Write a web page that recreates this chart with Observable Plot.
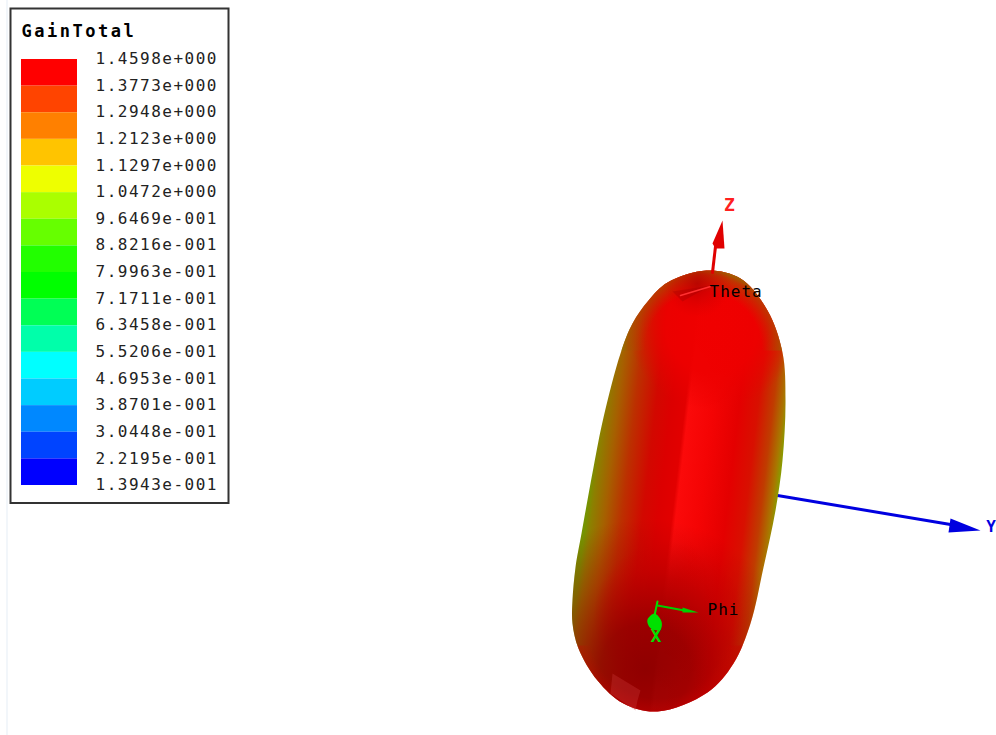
<!DOCTYPE html>
<html><head><meta charset="utf-8">
<script src="https://cdn.jsdelivr.net/npm/d3@7"></script>
<script src="https://cdn.jsdelivr.net/npm/@observablehq/plot@0.6"></script>
<style>
html,body{margin:0;padding:0;background:#fff;overflow:hidden;width:996px;height:735px}
#stage{position:relative;width:996px;height:735px}
#stage svg{position:absolute;max-width:none;background:transparent}
#stage svg.scene{left:0;top:0;background:#fff}
#stage svg.legend{left:9.5px;top:7.5px;overflow:visible}
.gain text{letter-spacing:1.5px}
.ttl text{letter-spacing:2.5px}
.ann text{letter-spacing:1px}
</style></head><body><div id="stage"></div>
<script>
// Legend: gain levels and colour bands
const legendTitle = "GainTotal";
const gainValues = [1.4598,1.3773,1.2948,1.2123,1.1297,1.0472,0.96469,0.88216,0.79963,0.71711,0.63458,0.55206,0.46953,0.38701,0.30448,0.22195,0.13943];
const gainLabels = ["1.4598e+000","1.3773e+000","1.2948e+000","1.2123e+000","1.1297e+000","1.0472e+000","9.6469e-001","8.8216e-001","7.9963e-001","7.1711e-001","6.3458e-001","5.5206e-001","4.6953e-001","3.8701e-001","3.0448e-001","2.2195e-001","1.3943e-001"];
const bandColors = ["#ff0000","#ff4400","#ff8000","#ffc400","#eeff00","#aaff00","#66ff00","#22ff00","#00ff00","#00ff55","#00ffaa","#00ffff","#00ccff","#0088ff","#0044ff","#0000ff"];

// Radiation-pattern silhouette
const lobeX = [706,740,767,782,785,782,775,763,750,733,707,657,623,597,578,572,572,575,581,593,603,620,632,648,667];
const lobeY = [270,278,310,352,400,460,510,567,623,663,692,711,703,680,648,623,600,567,533,467,417,353,323,300,282];
const facetX = [612,640,637,635,610];
const facetY = [673,690,700,710,693];
const dimpleX = [672,710,682], dimpleY = [291,285,301];
const markerX = [654,647,648,652,660,661], markerY = [613,619,625,629,629,621];

// Coordinate axes of the 3-D view
const zShaftX = [712,715], zShaftY = [272,246];
const zHeadX = [722,712,715,724], zHeadY = [220,243,248,248];
const yShaftX = [777,950], yShaftY = [495,524];
const yHeadX = [950,980,948], yHeadY = [518,530,532];
const xShaftX = [657,654], xShaftY = [601,615];
const phiShaftX = [657,684], phiShaftY = [605,610];
const phiHeadX = [682,698,682], phiHeadY = [607,612,612];
const thetaShaftX = [710,680], thetaShaftY = [286,295];
const axisLetters = ["Z","Y","X"];
const letterX = [729,990.5,655.5];
const letterY = [205,526,636];
const letterSize = [18,16,18];
const letterColor = ["#ff2020","#0000e0","#00e000"];
const angleNames = ["Theta","Phi"];
const angleX = [709,707];
const angleY = [291,609];

const rows = (xs, ys) => xs.map((x, i) => ({x, y: ys[i]}));
const poly = (xs, ys, fill, extra = {}) => Plot.line(rows(xs, ys), {x: "x", y: "y", fill, stroke: "none", curve: "linear-closed", ...extra});
const shaft = (xs, ys, stroke, strokeWidth) => Plot.line(rows(xs, ys), {x: "x", y: "y", stroke, strokeWidth});
const lobe = (fill, extra = {}) => poly(lobeX, lobeY, fill, {curve: "catmull-rom-closed", ...extra});

const gradients = (index, {x, y}) => {
  const defs = d3.create("svg:defs");
  const across = defs.append("linearGradient").attr("id", "across").attr("gradientUnits", "userSpaceOnUse")
    .attr("x1", x(590)).attr("y1", y(476)).attr("x2", x(777)).attr("y2", y(498));
  [[0,"#749400"],[.03,"#8c8000"],[.1,"#a66000"],[.19,"#bc3000"],[.3,"#d20800"],[.38,"#dc0000"],[.455,"#e20000"],[.475,"#fb0a0a"],[.6,"#f40404"],[.74,"#e40000"],[.84,"#d81000"],[.92,"#c03c00"],[.975,"#a87800"],[1,"#8a9a00"]]
    .forEach(([o, c]) => across.append("stop").attr("offset", o).attr("stop-color", c));
  const radial = (id, cx, cy, r, stops) => {
    const g = defs.append("radialGradient").attr("id", id).attr("gradientUnits", "userSpaceOnUse")
      .attr("cx", x(cx)).attr("cy", y(cy)).attr("r", r);
    stops.forEach(([o, c, a]) => g.append("stop").attr("offset", o).attr("stop-color", c).attr("stop-opacity", a));
  };
  radial("bottomShade", 645, 668, 150, [[0,"#820000",.85],[.3,"#880000",.75],[.65,"#a00000",.35],[1,"#a00000",0]]);
  radial("creaseFade", 668, 615, 75, [[0,"#d40000",.95],[.5,"#d40000",.7],[1,"#d80000",0]]);
  radial("topFill", 712, 325, 85, [[0,"#f00000",1],[.55,"#ee0000",.9],[1,"#e80000",0]]);
  radial("topShade", 697, 283, 34, [[0,"#b00000",.75],[1,"#d00000",0]]);
  radial("topRim", 703, 350, 81, [[0,"#b04000",0],[.72,"#b04000",0],[.93,"#a85000",.65],[1,"#907000",.9]]);
  radial("bottomRim", 657, 630, 83, [[0,"#c80000",0],[.82,"#c80000",0],[1,"#c80000",.4]]);
  const band = (id, top, bottom) => defs.append("clipPath").attr("id", id).append("rect")
    .attr("x", x(0)).attr("width", x(996)).attr("y", y(top)).attr("height", y(bottom) - y(top));
  band("upperCap", 0, 350);
  band("lowerCap", 645, 735);
  return defs.node();
};

const scene = Plot.plot({
  width: 996, height: 735, margin: 0, className: "scene",
  x: {domain: [0, 996], axis: null},
  y: {domain: [735, 0], axis: null},
  marks: [
    gradients,
    Plot.ruleX([6.5], {stroke: "#eef3f8", strokeWidth: 1.5}),
    shaft(yShaftX, yShaftY, "#0000e0", 3),
    poly(yHeadX, yHeadY, "#0000e0"),
    lobe("url(#across)"),
    lobe("url(#creaseFade)"),
    lobe("url(#bottomShade)"),
    lobe("url(#topFill)"),
    lobe("url(#topRim)", {className: "upper-cap"}),
    lobe("url(#bottomRim)", {className: "lower-cap"}),
    lobe("url(#topShade)"),
    poly(facetX, facetY, "#d04040", {fillOpacity: 0.3}),
    poly(dimpleX, dimpleY, "#a00000", {fillOpacity: 0.35}),
    shaft(thetaShaftX, thetaShaftY, "#ff3030", 1.5),
    shaft(zShaftX, zShaftY, "#e00000", 3),
    poly(zHeadX, zHeadY, "#e00000"),
    shaft(xShaftX, xShaftY, "#00e000", 2),
    shaft(phiShaftX, phiShaftY, "#00d000", 2),
    poly(phiHeadX, phiHeadY, "#00d000"),
    poly(markerX, markerY, "#00e000", {curve: "catmull-rom-closed"}),
    Plot.text(axisLetters, {
      x: (d, i) => letterX[i], y: (d, i) => letterY[i], text: d => d,
      fill: (d, i) => letterColor[i], fontSize: (d, i) => letterSize[i], lineAnchor: "middle", textAnchor: "middle",
      fontFamily: "DejaVu Sans Mono", fontWeight: "bold"
    }),
    Plot.text(angleNames, {
      x: (d, i) => angleX[i], y: (d, i) => angleY[i], text: d => d, className: "ann",
      fill: "#000", textAnchor: "start", lineAnchor: "middle",
      fontFamily: "DejaVu Sans Mono", fontSize: 16
    })
  ]
});
scene.querySelector("g.upper-cap").setAttribute("clip-path", "url(#upperCap)");
scene.querySelector("g.lower-cap").setAttribute("clip-path", "url(#lowerCap)");

const bands = bandColors.map((fill, i) => ({fill, top: gainValues[i], bottom: gainValues[i + 1]}));
const legend = Plot.plot({
  width: 218, height: 494.5,
  marginTop: 51, marginBottom: 17.5, marginLeft: 11, marginRight: 151,
  className: "legend",
  x: {domain: [0, 1], axis: null},
  y: {domain: [0.13943, 1.4598], axis: null},
  marks: [
    Plot.frame({stroke: "#333", strokeWidth: 2, insetTop: -51, insetBottom: -17.5, insetLeft: -11, insetRight: -151, fill: "#fff"}),
    Plot.rect(bands, {x1: 0, x2: 1, y1: "bottom", y2: "top", fill: "fill"}),
    Plot.text(gainLabels, {
      x: 1, y: (d, i) => gainValues[i], text: d => d, className: "gain",
      dx: 18, dy: -0.5, textAnchor: "start", lineAnchor: "middle",
      fontFamily: "DejaVu Sans Mono", fontSize: 16, fill: "#222"
    }),
    Plot.text([legendTitle], {
      x: 0, y: 1.4598, text: d => d, className: "ttl",
      dy: -28, textAnchor: "start", lineAnchor: "middle",
      fontFamily: "DejaVu Sans Mono", fontSize: 17, fontWeight: "bold", fill: "#000"
    })
  ]
});

const stage = document.getElementById("stage");
stage.append(scene, legend);
</script></body></html>
